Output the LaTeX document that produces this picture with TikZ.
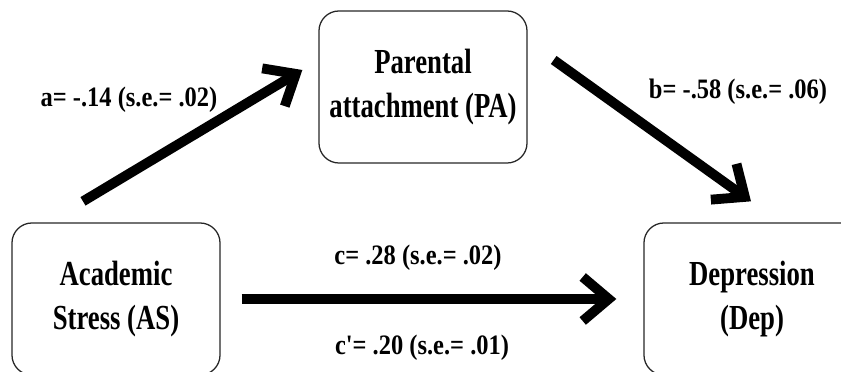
\documentclass[tikz,border=0pt]{standalone}
\usepackage{fontspec}
\setmainfont{Liberation Serif}
\newfontfamily\boxfont[FakeStretch=0.76]{Liberation Serif}
\newfontfamily\coeffont[FakeStretch=0.87]{Liberation Serif}
\usetikzlibrary{arrows.meta}

\begin{document}
\begin{tikzpicture}[
  x=0.025cm, y=0.025cm,
  varbox/.style={draw=black!85, line width=0.9pt, rounded corners=0.5cm, minimum width=5.2cm, minimum height=3.8cm, align=center, font=\boxfont\bfseries\fontsize{25}{31.3}\selectfont},
  effect/.style={line width=7pt, -{Straight Barb[length=0.65cm, width=1.1cm]}},
  coef/.style={font=\coeffont\bfseries\fontsize{20}{24}\selectfont}
]
  \useasboundingbox (0,0) rectangle (841,372);
  \clip (0,0) rectangle (841,372);

  \node[varbox] (as) at (116,73) {Academic\\Stress (AS)};
  \node[varbox] (pa) at (423,285) {Parental\\attachment (PA)};
  \node[varbox, minimum width=5.4cm] (dep) at (752,73) {Depression\\(Dep)};

  \draw[effect] ([xshift=-0.825cm, yshift=0.525cm]as.north) -- ([xshift=-0.4cm, yshift=0.425cm]pa.west);
  \draw[effect] ([xshift=0.65cm, yshift=0.675cm]pa.east) -- ([xshift=-0.025cm, yshift=0.525cm]dep.north);
  \draw[effect, shorten <=0.525cm, shorten >=0.675cm] (as.east) -- (dep.west);

  \node[coef] (alab) at (129,272) {a= -.14 (s.e.= .02)};
  \node[coef] (blab) at (738,280) {b= -.58 (s.e.= .06)};
  \node[coef] (clab) at (418,114) {c= .28 (s.e.= .02)};
  \node[coef] (cplab) at (422,24) {c'= .20 (s.e.= .01)};
\end{tikzpicture}
\end{document}
